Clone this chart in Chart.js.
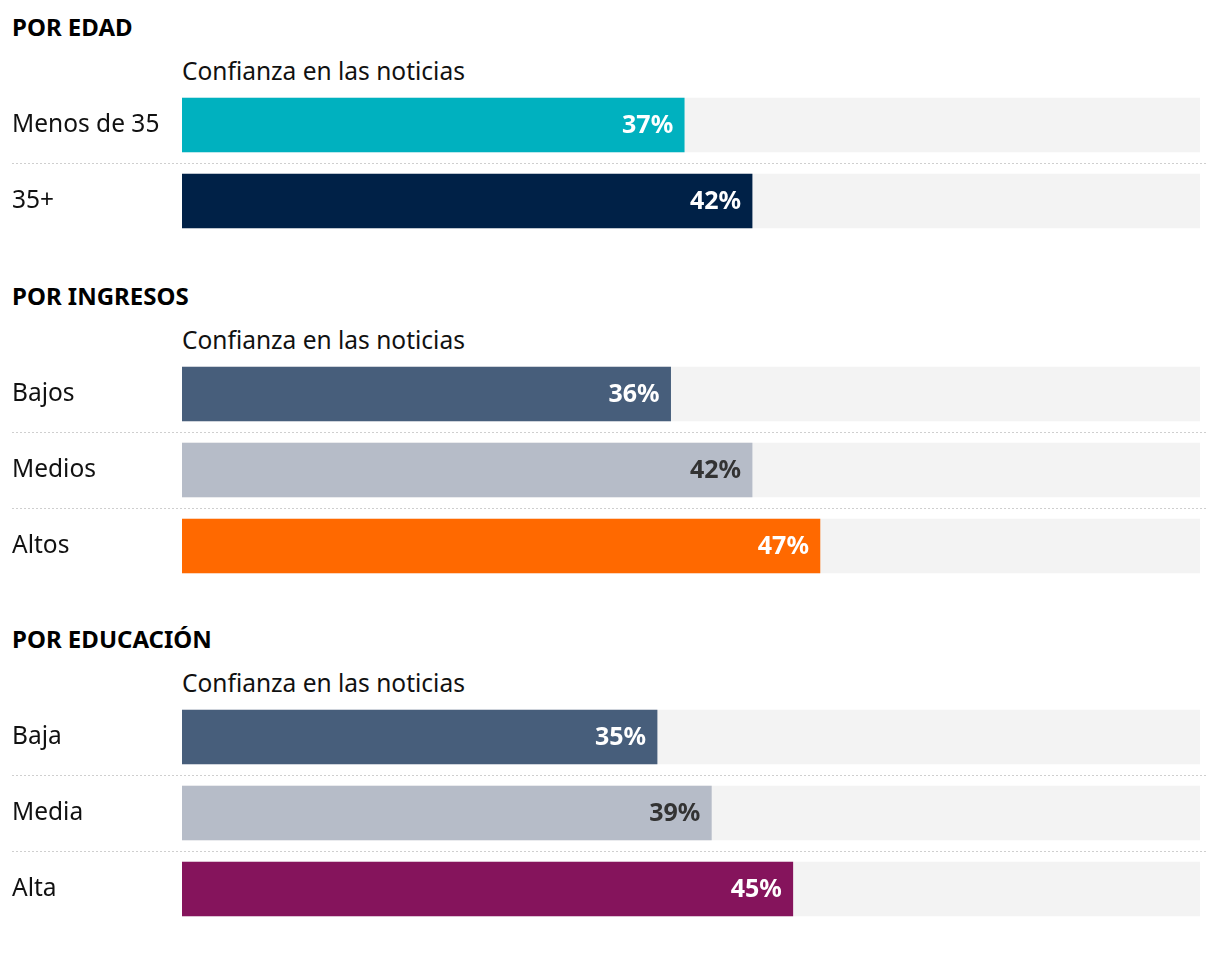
<!DOCTYPE html>
<html>
<head>
<meta charset="utf-8">
<script src="https://cdn.jsdelivr.net/npm/chart.js@4.4.1/dist/chart.umd.min.js"></script>
<style>
   body { margin: 0; background: #fff; font-family: "Noto Sans", sans-serif; color: #111; }
   .group { position: absolute; left: 0; width: 1220px; }
   .group h2 { position: absolute; left: 12px; top: 0; margin: 0; font-size: 24px; font-weight: 700; line-height: 30px; color: #000; }
   .group .sub { position: absolute; left: 182px; top: 44px; font-size: 24.5px; line-height: 30px; color: #111; }
   .group .box { position: absolute; left: 12px; width: 1196px; }
</style>
</head>
<body>
<script>
const scaleMax = 75;

const edadLabels = ["Menos de 35", "35+"];
const edadValues = [37, 42];
const edadColors = ["#00b1bf", "#002147"];

const ingresosLabels = ["Bajos", "Medios", "Altos"];
const ingresosValues = [36, 42, 47];
const ingresosColors = ["#475e7b", "#b6bcc8", "#ff6900"];

const educacionLabels = ["Baja", "Media", "Alta"];
const educacionValues = [35, 39, 45];
const educacionColors = ["#475e7b", "#b6bcc8", "#85145c"];

const subtitle = "Confianza en las noticias";

const groups = [
   { title: "POR EDAD", top: 12, labels: edadLabels, values: edadValues, colors: edadColors },
   { title: "POR INGRESOS", top: 281, labels: ingresosLabels, values: ingresosValues, colors: ingresosColors },
   { title: "POR EDUCACIÓN", top: 624, labels: educacionLabels, values: educacionValues, colors: educacionColors },
];

const rowHeight = 76;

function textColorFor(bg) {
   return bg === "#b6bcc8" ? "#333333" : "#ffffff";
}

const separators = {
   id: "separators",
   beforeDatasetsDraw(chart) {
      const ctx = chart.ctx;
      const y = chart.scales.y;
      ctx.save();
      ctx.strokeStyle = "#cfcfcf";
      ctx.lineWidth = 1;
      ctx.setLineDash([2, 2]);
      for (let i = 1; i < chart.data.labels.length; i++) {
         const py = Math.round((y.getPixelForValue(i - 1) + y.getPixelForValue(i)) / 2) + 0.5;
         ctx.beginPath();
         ctx.moveTo(0, py);
         ctx.lineTo(chart.width, py);
         ctx.stroke();
      }
      ctx.restore();
   }
};

const valueLabels = {
   id: "valueLabels",
   afterDatasetsDraw(chart) {
      const ctx = chart.ctx;
      const meta = chart.getDatasetMeta(0);
      const ds = chart.data.datasets[0];
      ctx.save();
      ctx.font = "bold 25px 'Noto Sans', sans-serif";
      ctx.textAlign = "right";
      ctx.textBaseline = "middle";
      meta.data.forEach((bar, i) => {
         ctx.fillStyle = textColorFor(ds.backgroundColor[i]);
         ctx.fillText(ds.data[i] + "%", bar.x - 11, bar.y + 1);
      });
      ctx.restore();
   }
};

for (const g of groups) {
   const div = document.createElement("div");
   div.className = "group";
   div.style.top = g.top + "px";
   const h = document.createElement("h2");
   h.textContent = g.title;
   const sub = document.createElement("div");
   sub.className = "sub";
   sub.textContent = subtitle;
   const box = document.createElement("div");
   box.className = "box";
   box.style.top = "75px";
   box.style.height = (rowHeight * g.labels.length) + "px";
   const canvas = document.createElement("canvas");
   box.appendChild(canvas);
   div.append(h, sub, box);
   document.body.appendChild(div);

   new Chart(canvas.getContext("2d"), {
      type: "bar",
      data: {
         labels: g.labels,
         datasets: [
            {
               data: g.values,
               backgroundColor: g.colors,
               barThickness: 54,
               grouped: false,
               order: 0,
            },
            {
               data: g.labels.map(() => scaleMax),
               backgroundColor: "#f3f3f3",
               barThickness: 54,
               grouped: false,
               order: 1,
            },
         ],
      },
      options: {
         indexAxis: "y",
         responsive: true,
         maintainAspectRatio: false,
         animation: false,
         layout: { padding: { left: 0, right: 8, top: 0, bottom: 0 } },
         plugins: { legend: { display: false }, tooltip: { enabled: false } },
         scales: {
            x: { display: false, min: 0, max: scaleMax },
            y: {
               grid: { display: false },
               border: { display: false },
               afterFit(scale) {
                  scale.width = 170;
                  scale.paddingTop = 0;
                  scale.paddingBottom = 0;
               },
               ticks: {
                  crossAlign: "far",
                  color: "#111",
                  font: { family: "'Noto Sans', sans-serif", size: 24.5 },
               },
            },
         },
      },
      plugins: [separators, valueLabels],
   });
}
</script>
</body>
</html>
